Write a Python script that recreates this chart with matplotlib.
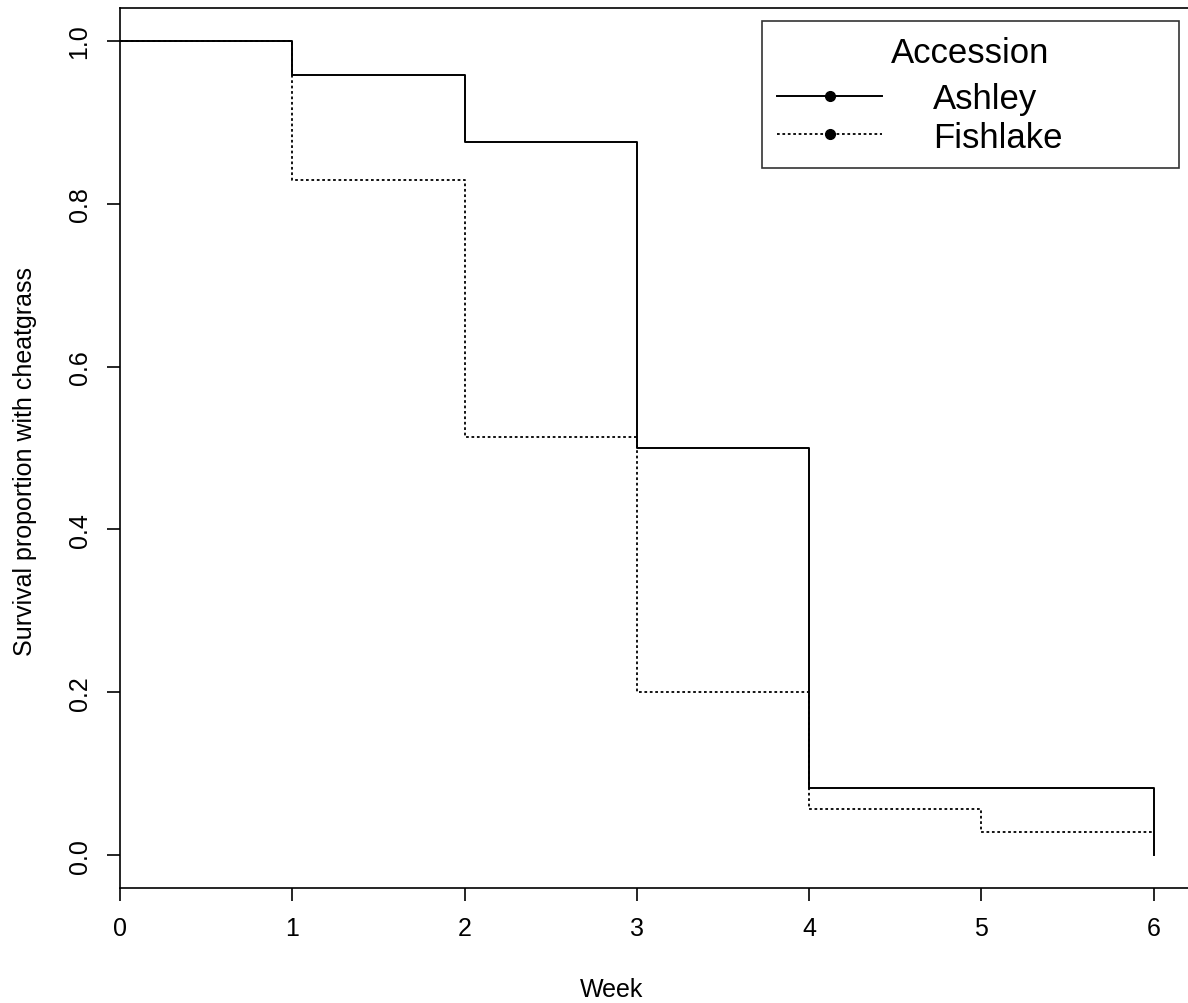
import matplotlib
matplotlib.use("Agg")
import matplotlib.pyplot as plt

weeks = [0, 1, 2, 3, 4, 5, 6]
ashley = [1.0, 0.958, 0.875, 0.5, 0.083, 0.083, 0.0]
fishlake = [1.0, 0.829, 0.514, 0.2, 0.057, 0.029, 0.029]
xticks = [0, 1, 2, 3, 4, 5, 6]
yticks = [0.0, 0.2, 0.4, 0.6, 0.8, 1.0]
ytick_labels = ["0.0", "0.2", "0.4", "0.6", "0.8", "1.0"]

plt.rcParams['font.family'] = ['Liberation Sans', 'DejaVu Sans']

W, H = 1188, 1004
fig = plt.figure(figsize=(W / 100, H / 100), dpi=100)
ax = fig.add_axes([120 / W, (H - 889) / H, (W - 120) / W, (889 - 9) / H])

ax.step(weeks, ashley, where='post', color='black', lw=1.4, label='Ashley')
ax.step(weeks, fishlake, where='post', color='black', lw=1.3,
        linestyle=(0, (1.5, 1.5)), label='Fishlake')

ax.set_xlim(0, 6.2)
ax.set_ylim(-0.04, 1.04)
ax.set_xticks(xticks)
ax.set_yticks(yticks)
ax.set_yticklabels(ytick_labels, rotation=90, va='center')
ax.spines['right'].set_visible(False)
for s in ['left', 'bottom', 'top']:
    ax.spines[s].set_linewidth(1.2)
ax.tick_params(axis='both', direction='out', length=9.5, width=1.2,
               labelsize=18, colors='black')
ax.tick_params(axis='x', pad=11)
ax.tick_params(axis='y', pad=11)

fig.text(612 / W, 1 - 990 / H, 'Week', fontsize=18, ha='center', va='center')
fig.text(25 / W, 1 - 462 / H, 'Survival proportion with cheatgrass', fontsize=18,
         rotation=90, ha='center', va='center')

h1, = ax.plot([], [], color='black', lw=1.4, marker='o', markersize=7)
h2, = ax.plot([], [], color='black', lw=1.3, linestyle=(0, (1.5, 1.5)),
              marker='o', markersize=7)
leg = ax.legend([h1, h2], ['Ashley', 'Fishlake'], title='Accession',
                loc='upper left',
                bbox_to_anchor=(762 / W, 1 - 172 / H, 417 / W, 150 / H),
                bbox_transform=fig.transFigure, mode='expand',
                fontsize=25, title_fontsize=25,
                frameon=True, fancybox=False, edgecolor='black',
                handlelength=3.05, handletextpad=1.45, labelspacing=0.145,
                borderpad=0.42, borderaxespad=0, markerscale=1)
leg._legend_box.sep = 10.0
leg.get_frame().set_linewidth(1.2)

fig.savefig('out.png', dpi=100)
